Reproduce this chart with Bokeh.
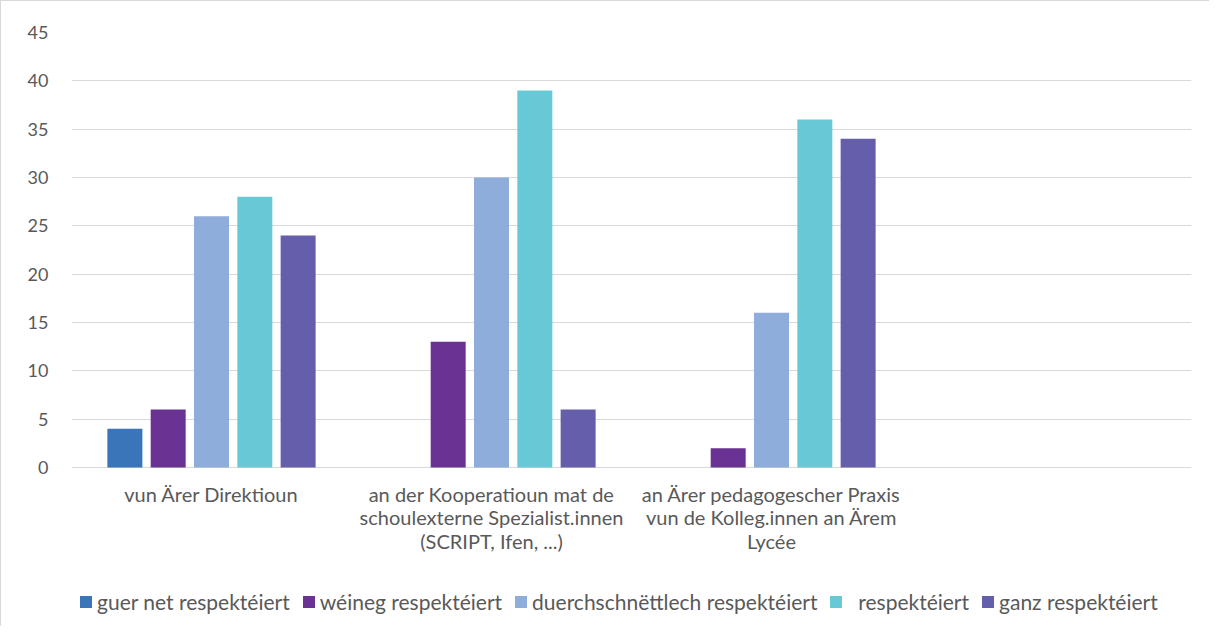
from bokeh.plotting import figure
from bokeh.models import Range1d, FixedTicker, Legend, LegendItem
from bokeh.core.properties import value
from bokeh.embed import file_html
from bokeh.resources import INLINE

categories = [
    "vun Ärer Direktioun",
    "an der Kooperatioun mat de\nschoulexterne Spezialist.innen\n(SCRIPT, Ifen, ...)",
    "an Ärer pedagogescher Praxis\nvun de Kolleg.innen an Ärem\nLycée",
    "",
]
series_names = [
    "guer net respektéiert",
    "wéineg respektéiert",
    "duerchschnëttlech respektéiert",
    "  respektéiert",
    "ganz respektéiert",
]
guer_net = [4, 0, 0, 0]
weineg = [6, 13, 2, 0]
duerchschnettlech = [26, 30, 16, 0]
respekteiert = [28, 39, 36, 0]
ganz = [24, 6, 34, 0]
y_ticks = [0, 5, 10, 15, 20, 25, 30, 35, 40, 45]

series_values = [guer_net, weineg, duerchschnettlech, respekteiert, ganz]
colors = ["#3A74B9", "#6A3292", "#8EADDA", "#66C9D5", "#655EAB"]

FONT = "Lato"
TXT = "#595959"

p = figure(width=1209, height=626, output_backend="svg", toolbar_location=None,
           x_range=Range1d(0, 4), y_range=Range1d(-16.55, 45),
           x_axis_location=None,
           min_border_left=70, min_border_right=19, min_border_top=31,
           min_border_bottom=0)
p.styles = {"border-top": "1px solid #d9d9d9", "border-left": "1px solid #d9d9d9"}
p.outline_line_color = None

step = 0.1547
width = 0.125
centers = [i + 0.5 for i in range(len(categories))]
items = []
for k, (name, vals, col) in enumerate(zip(series_names, series_values, colors)):
    xs = [c + (k - 2) * step for c in centers]
    r = p.vbar(x=xs, top=vals, bottom=0, width=width, fill_color=col, line_color=None)
    items.append(LegendItem(label=name, renderers=[r]))

# category labels under the bars
p.text(x=centers, y=[0] * len(centers), text=categories,
       text_font=value(FONT), text_font_size=value("20px"), text_color=TXT,
       text_align="center", text_baseline="top", y_offset=14,
       text_line_height=0.98)

p.xgrid.grid_line_color = None

p.yaxis.ticker = FixedTicker(ticks=y_ticks)
p.yaxis.axis_line_color = None
p.yaxis.major_tick_line_color = None
p.yaxis.minor_tick_line_color = None
p.yaxis.major_label_text_font = FONT
p.yaxis.major_label_text_font_size = "18px"
p.yaxis.major_label_text_color = TXT
p.yaxis.major_label_standoff = 17
p.ygrid.ticker = FixedTicker(ticks=y_ticks)
p.ygrid.grid_line_color = "#D9D9D9"
p.ygrid.grid_line_width = 1

legend = Legend(items=items, orientation="horizontal", location=(7, 13),
                label_text_font=FONT, label_text_font_size="21px",
                label_text_color=TXT, glyph_width=15, glyph_height=15,
                spacing=11, label_standoff=4, padding=2, margin=0,
                border_line_color=None, background_fill_alpha=0)
p.add_layout(legend)

open("out.html", "w").write(file_html(p, INLINE))
